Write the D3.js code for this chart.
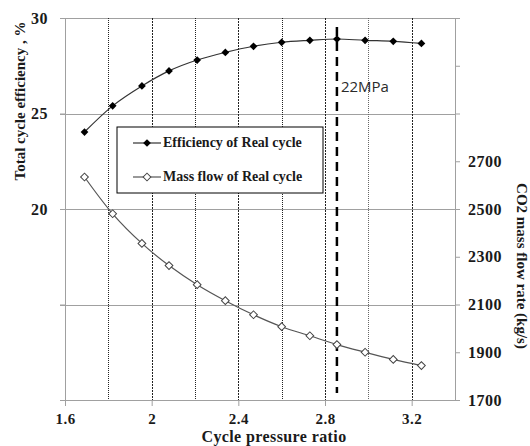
<!DOCTYPE html>
<html>
<head>
<meta charset="utf-8">
<script src="https://cdn.jsdelivr.net/npm/d3@7"></script>
<style>
  body { margin: 0; background: #fff; }
  svg text { font-family: "Liberation Serif", "Times New Roman", serif; font-weight: bold; fill: #1a1a1a; }
</style>
</head>
<body>
<svg id="chart" width="530" height="446"></svg>
<script>
"use strict";

// values
const pressureRatio = [1.69, 1.82, 1.955, 2.08, 2.21, 2.34, 2.47, 2.6, 2.73, 2.855, 2.985, 3.115, 3.245];
const efficiency = [24.03, 25.4, 26.44, 27.23, 27.8, 28.2, 28.52, 28.73, 28.83, 28.9, 28.83, 28.78, 28.67];
const massFlow = [2634, 2480, 2356, 2263, 2183, 2116, 2057, 2007, 1969, 1932, 1900, 1870, 1844];

const xTicks = [1.6, 2, 2.4, 2.8, 3.2];
const xGrid = [1.8, 2.0, 2.2, 2.4, 2.6, 2.8, 3.0, 3.2];
const leftTicks = [10, 15, 20, 25, 30];
const leftLabelled = [20, 25, 30];
const rightTicks = [1700, 1900, 2100, 2300, 2500, 2700, 2900, 3100, 3300];
const rightLabelled = [1700, 1900, 2100, 2300, 2500, 2700];
const markerRatio = 2.855; // 22MPa
const seriesNames = ["Efficiency of Real cycle", "Mass flow of Real cycle"];

const svg = d3.select("#chart");
const plotLeft = 65, plotRight = 455, plotTop = 18, plotBottom = 400;

const x = d3.scaleLinear().domain([1.6, 3.4]).range([plotLeft, plotRight]);
const yL = d3.scaleLinear().domain([10, 30]).range([plotBottom, plotTop]);
const yR = d3.scaleLinear().domain([1700, 3300]).range([plotBottom, plotTop]);

// horizontal grid (left axis ticks)
svg.append("g")
  .selectAll("line")
  .data(leftTicks.filter((d) => d > 10))
  .join("line")
  .attr("x1", plotLeft - 5)
  .attr("x2", plotRight)
  .attr("y1", (d) => Math.round(yL(d)) + 0.5)
  .attr("y2", (d) => Math.round(yL(d)) + 0.5)
  .attr("stroke", "#a0a0a0")
  .attr("stroke-width", 1);

// vertical grid
svg.append("g")
  .selectAll("line")
  .data(xGrid)
  .join("line")
  .attr("x1", (d) => Math.round(x(d)) + 0.5)
  .attr("x2", (d) => Math.round(x(d)) + 0.5)
  .attr("y1", plotTop)
  .attr("y2", plotBottom)
  .attr("stroke", (d, i) => (i === 6 ? "#666" : "#222"))
  .attr("stroke-width", 1)
  .attr("stroke-dasharray", (d, i) => (i % 2 === 0 ? "1,1" : "2,1"));

// axes
const xAxis = svg.append("g")
  .attr("transform", `translate(0,${plotBottom})`)
  .call(d3.axisBottom(x).tickValues(xTicks).tickSize(6).tickSizeOuter(0).tickPadding(7).tickFormat(d3.format("")));

const leftAxis = svg.append("g")
  .attr("transform", `translate(${plotLeft},0)`)
  .call(d3.axisLeft(yL).tickValues(leftTicks).tickSize(5).tickSizeOuter(0).tickPadding(12)
    .tickFormat((d) => (leftLabelled.includes(d) ? d : "")));

const rightAxis = svg.append("g")
  .attr("transform", `translate(${plotRight},0)`)
  .call(d3.axisRight(yR).tickValues(rightTicks).tickSize(5).tickSizeOuter(0).tickPadding(8)
    .tickFormat((d) => (rightLabelled.includes(d) ? d : "")));

[xAxis, leftAxis, rightAxis].forEach((g) => {
  g.select(".domain").attr("stroke", "#a0a0a0");
  g.selectAll(".tick line").attr("stroke", "#a0a0a0");
  g.selectAll(".tick text")
    .attr("font-size", 16)
    .attr("font-family", "Liberation Serif, serif")
    .attr("font-weight", "bold")
    .attr("letter-spacing", 0.5)
    .attr("fill", "#1a1a1a");
});
xAxis.selectAll(".tick text").attr("font-size", 15);

// 22MPa line
svg.append("line")
  .attr("x1", x(markerRatio))
  .attr("x2", x(markerRatio))
  .attr("y1", plotTop + 9)
  .attr("y2", plotBottom - 7)
  .attr("stroke", "#000")
  .attr("stroke-width", 2.5)
  .attr("stroke-dasharray", "9,6");

svg.append("text")
  .attr("x", x(markerRatio) + 4)
  .attr("y", 92)
  .attr("font-size", 15)
  .style("font-family", "'Open Sans', sans-serif")
  .style("font-weight", "normal")
  .style("fill", "#2a2a2a")
  .text("22MPa");

const curve = d3.curveCatmullRom.alpha(0.5);
const diamond = d3.symbol().type(d3.symbolSquare).size(30);

// efficiency series
const effPts = pressureRatio.map((p, i) => [p, efficiency[i]]);
svg.append("path")
  .datum(effPts)
  .attr("fill", "none")
  .attr("stroke", "#333")
  .attr("stroke-width", 1.2)
  .attr("d", d3.line().curve(curve).x((d) => x(d[0])).y((d) => yL(d[1])));

svg.append("g")
  .selectAll("path")
  .data(effPts)
  .join("path")
  .attr("transform", (d) => `translate(${x(d[0])},${yL(d[1])}) rotate(45)`)
  .attr("d", diamond)
  .attr("fill", "#000");

// mass flow series
const flowPts = pressureRatio.map((p, i) => [p, massFlow[i]]);
svg.append("path")
  .datum(flowPts)
  .attr("fill", "none")
  .attr("stroke", "#555")
  .attr("stroke-width", 1.2)
  .attr("d", d3.line().curve(curve).x((d) => x(d[0])).y((d) => yR(d[1])));

svg.append("g")
  .selectAll("path")
  .data(flowPts)
  .join("path")
  .attr("transform", (d) => `translate(${x(d[0])},${yR(d[1])}) rotate(45)`)
  .attr("d", diamond)
  .attr("fill", "#fff")
  .attr("stroke", "#444")
  .attr("stroke-width", 1);

// legend
const legend = svg.append("g").attr("transform", "translate(117,127)");
legend.append("rect")
  .attr("width", 206)
  .attr("height", 66)
  .attr("fill", "#fff")
  .attr("stroke", "#000")
  .attr("stroke-width", 1);

seriesNames.forEach((name, i) => {
  const yy = 16 + i * 34;
  legend.append("line")
    .attr("x1", 16).attr("x2", 44)
    .attr("y1", yy).attr("y2", yy)
    .attr("stroke", i === 0 ? "#333" : "#555")
    .attr("stroke-width", 1.2);
  legend.append("path")
    .attr("transform", `translate(30,${yy}) rotate(45)`)
    .attr("d", diamond)
    .attr("fill", i === 0 ? "#000" : "#fff")
    .attr("stroke", i === 0 ? "none" : "#444");
  legend.append("text")
    .attr("x", 46)
    .attr("y", yy + 4)
    .attr("font-size", 14)
    .text(name);
});

// axis titles
svg.append("text")
  .attr("transform", "translate(25,101) rotate(-90)")
  .attr("text-anchor", "middle")
  .attr("font-size", 15)
  .text("Total cycle efficiency , %");

svg.append("text")
  .attr("transform", "translate(517,266) rotate(90)")
  .attr("text-anchor", "middle")
  .attr("font-size", 15)
  .text("CO2 mass flow rate (kg/s)");

svg.append("text")
  .attr("x", 274)
  .attr("y", 442)
  .attr("text-anchor", "middle")
  .attr("font-size", 16)
  .attr("letter-spacing", 0.4)
  .text("Cycle pressure ratio");
</script>
</body>
</html>
